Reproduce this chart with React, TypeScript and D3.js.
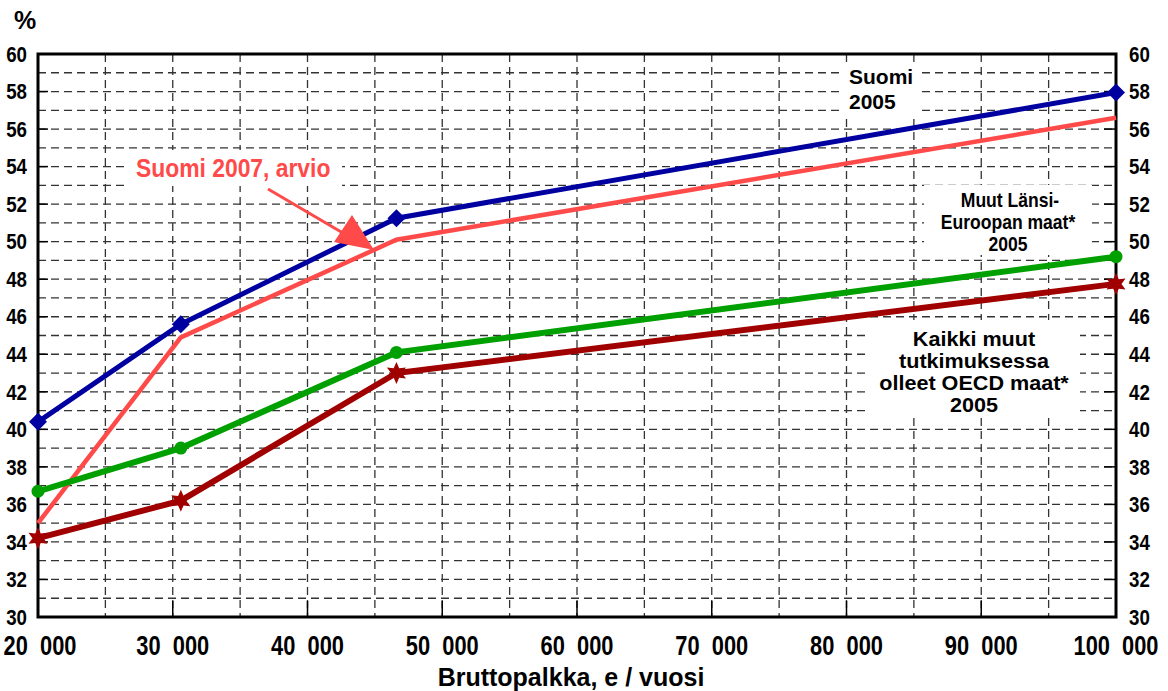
import React, { useEffect } from "react";
import * as d3 from "d3";

const wages = [20000, 30600, 46600, 100000];
const suomi2005 = [40.4, 45.6, 51.25, 57.95];
const suomi2007 = [35.0, 44.9, 50.1, 56.6];
const muutLansi = [36.7, 39.0, 44.1, 49.2];
const kaikkiMuut = [34.2, 36.2, 43.0, 47.75];
const yTicks = [30, 32, 34, 36, 38, 40, 42, 44, 46, 48, 50, 52, 54, 56, 58, 60];
const xTicks = [20000, 30000, 40000, 50000, 60000, 70000, 80000, 90000, 100000];
const xTickLabels = ["20  000", "30  000", "40  000", "50  000", "60  000", "70  000", "80  000", "90  000", "100  000"];

const W = 1168, H = 691;
const L = 38, R = 1116, T = 54, B = 617;

const sans = "'Liberation Sans', Arial, sans-serif";

function CText(props: { x: number; y: number; sx: number; size: number; anchor?: string; fill?: string; children: React.ReactNode }) {
  const { x, y, sx, size, anchor = "start", fill = "#000", children } = props;
  return (
    <text
      transform={`translate(${x},${y}) scale(${sx},1)`}
      dy="0.35em"
      textAnchor={anchor}
      fontFamily={sans}
      fontWeight="bold"
      fontSize={size}
      fill={fill}
      style={{ whiteSpace: "pre" }}
    >
      {children}
    </text>
  );
}

export default function App() {
  useEffect(() => { document.body.style.margin = "0"; }, []);
  const x = d3.scaleLinear().domain([20000, 100000]).range([L, R]);
  const y = d3.scaleLinear().domain([30, 60]).range([B, T]);
  const line = d3.line<number>().x((_, i) => x(wages[i])).y((d) => y(d));

  const hGrid = d3.range(31, 60);
  const vGrid = d3.range(25000, 100000, 5000);

  const series = [
    { data: suomi2005, color: "#0000a0", w: 5, marker: "diamond" },
    { data: suomi2007, color: "#ff4a4a", w: 4.5, marker: "none" },
    { data: muutLansi, color: "#00a000", w: 6, marker: "circle" },
    { data: kaikkiMuut, color: "#a00000", w: 6, marker: "star" },
  ];

  const star6 = (cx: number, cy: number, r: number) => {
    const pts: string[] = [];
    for (let k = 0; k < 12; k++) {
      const a = (Math.PI / 6) * k - Math.PI / 2;
      const rr = k % 2 === 0 ? r : r * 0.5;
      pts.push(`${cx + rr * Math.cos(a)},${cy + rr * Math.sin(a)}`);
    }
    return "M" + pts.join("L") + "Z";
  };

  return (
    <svg width={W} height={H} style={{ display: "block", background: "#fff" }}>
      {/* grid */}
      {hGrid.map((v) => (
        <line key={"h" + v} x1={L} x2={R} y1={y(v)} y2={y(v)} stroke="#333" strokeWidth={1.3} strokeDasharray="8,5" />
      ))}
      {vGrid.map((v) => (
        <line key={"v" + v} x1={x(v)} x2={x(v)} y1={T} y2={B} stroke="#333" strokeWidth={1.3} strokeDasharray="8,5" />
      ))}
      {/* inner ticks */}
      {yTicks.map((v) => (
        <g key={"yt" + v}>
          <line x1={L} x2={L + 10} y1={y(v)} y2={y(v)} stroke="#000" strokeWidth={1.5} />
          <line x1={R - 12} x2={R} y1={y(v)} y2={y(v)} stroke="#000" strokeWidth={1.5} />
        </g>
      ))}
      {xTicks.map((v) => (
        <line key={"xt" + v} x1={x(v)} x2={x(v)} y1={B - 16} y2={B} stroke="#000" strokeWidth={1.5} />
      ))}

      {/* text boxes with white background */}
      <rect x={128} y={150} width={214} height={36} fill="#fff" />
      <rect x={842} y={62} width={80} height={52} fill="#fff" />
      <rect x={924} y={185} width={168} height={70} fill="#fff" />
      <rect x={868} y={320} width={212} height={95} fill="#fff" />

      {/* frame */}
      <rect x={L} y={T} width={R - L} height={B - T} fill="none" stroke="#000" strokeWidth={3} />

      {/* series */}
      {series.map((s, si) => (
        <g key={"s" + si}>
          <path d={line(s.data) || ""} fill="none" stroke={s.color} strokeWidth={s.w} strokeLinejoin="miter" />
          {s.data.map((v, i) => {
            const cx = x(wages[i]), cy = y(v);
            if (s.marker === "diamond")
              return <path key={i} d={`M${cx},${cy - 9}L${cx + 9},${cy}L${cx},${cy + 9}L${cx - 9},${cy}Z`} fill={s.color} />;
            if (s.marker === "circle") return <circle key={i} cx={cx} cy={cy} r={6.5} fill={s.color} />;
            if (s.marker === "star") return <path key={i} d={star6(cx, cy, 11)} fill={s.color} />;
            return null;
          })}
        </g>
      ))}

      {/* arrow */}
      <line x1={268} y1={189} x2={348} y2={236} stroke="#ff4a4a" strokeWidth={3} />
      <path d="M374,250 L334,242 L352,215 Z" fill="#ff4a4a" />

      {/* y labels */}
      {yTicks.map((v) => (
        <g key={"yl" + v}>
          <CText x={27} y={y(v)} sx={0.85} size={22} anchor="end">{String(v)}</CText>
          <CText x={1129} y={y(v)} sx={0.85} size={22}>{String(v)}</CText>
        </g>
      ))}
      {/* x labels */}
      {xTicks.map((v, i) => (
        <CText key={"xl" + v} x={i === 0 ? 40 : x(v)} y={645} sx={0.78} size={28} anchor="middle">
          {xTickLabels[i]}
        </CText>
      ))}
      <CText x={571} y={677} sx={1} size={25} anchor="middle">Bruttopalkka, e / vuosi</CText>
      <CText x={25} y={20} sx={1} size={25} anchor="middle">%</CText>

      {/* annotations */}
      <CText x={136} y={168} sx={0.88} size={26} fill="#ff4a4a">Suomi 2007, arvio</CText>
      <CText x={849} y={77} sx={1} size={21}>Suomi</CText>
      <CText x={849} y={102} sx={1} size={21}>2005</CText>
      <CText x={1010} y={200} sx={0.9} size={19.5} anchor="middle">Muut Länsi-</CText>
      <CText x={1008} y={222} sx={0.9} size={19.5} anchor="middle">Euroopan maat*</CText>
      <CText x={1008} y={244} sx={0.9} size={19.5} anchor="middle">2005</CText>
      <CText x={974} y={339} sx={1.08} size={20} anchor="middle">Kaikki muut</CText>
      <CText x={974} y={361} sx={1.08} size={20} anchor="middle">tutkimuksessa</CText>
      <CText x={974} y={383} sx={1.08} size={20} anchor="middle">olleet OECD maat*</CText>
      <CText x={974} y={405} sx={1.08} size={20} anchor="middle">2005</CText>
    </svg>
  );
}
